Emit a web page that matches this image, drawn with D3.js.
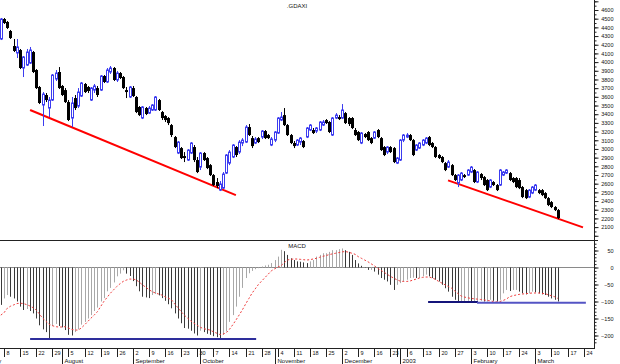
<!DOCTYPE html>
<html>
<head>
<meta charset="utf-8">
<script src="https://cdn.jsdelivr.net/npm/d3@7"></script>
<style>
  body { margin: 0; background: #fff; }
  svg { display: block; }
  text { font-family: "Liberation Sans", Arial, sans-serif; fill: #111; }
</style>
</head>
<body>
<svg width="620" height="364"></svg>
<script>
// daily .GDAXI candles, 5 Jul 2002 .. 12 Mar 2003
const openP = [4266,4496,4462,4358,4185,4105,4139,3932,3966,3989,
  4116,3909,3713,3506,3621,3471,3563,3805,3886,3725,
  3678,3540,3356,3586,3494,3609,3748,3713,3563,3678,
  3701,3678,3840,3771,3886,3932,3794,3874,3828,3678,
  3598,3701,3598,3483,3356,3471,3413,3448,3448,3563,
  3425,3379,3356,3275,3137,2953,3010,2918,2872,2953,
  3022,2872,2791,2953,2895,2814,2699,2619,2526,2549,
  2722,2837,2907,3022,2964,3068,3079,3252,3125,3068,
  3125,3137,3206,3160,3045,3102,3183,3333,3390,3275,
  3160,3068,3045,3079,3091,3137,3218,3218,3206,3218,
  3275,3333,3310,3160,3356,3367,3356,3413,3356,3356,
  3218,3195,3068,3172,3195,3125,3125,3218,3125,3022,
  2964,3022,3010,2837,2872,3102,3137,3160,3102,2987,
  3010,3045,3068,3137,3068,3022,2930,2907,2837,2791,
  2814,2699,2607,2642,2699,2699,2734,2757,2619,2711,
  2676,2642,2561,2619,2584,2584,2699,2722,2722,2665,
  2665,2642,2561,2526,2446,2492,2526,2526,2526,2492,
  2434,2388,2331,2296]
const highP = [4508,4508,4473,4370,4266,4266,4151,4070,4151,4174,
  4128,3920,3725,3655,3644,3598,3863,3909,3943,3736,
  3701,3563,3598,3621,3701,3771,3759,3725,3713,3748,
  3725,3851,3851,3932,3955,3943,3897,3886,3840,3713,
  3725,3725,3609,3494,3494,3483,3494,3517,3609,3575,
  3437,3390,3367,3287,3149,3091,3022,2964,2999,3079,
  3045,2907,2964,2964,2907,2826,2711,2665,2630,2734,
  2941,2987,3056,3033,3102,3125,3275,3287,3149,3137,
  3137,3218,3218,3172,3137,3206,3367,3425,3471,3287,
  3172,3091,3114,3137,3102,3252,3287,3241,3252,3321,
  3333,3344,3321,3367,3413,3390,3517,3425,3367,3367,
  3241,3206,3195,3183,3206,3137,3206,3229,3137,3033,
  3033,3033,3022,2907,3114,3172,3183,3172,3114,3056,
  3079,3114,3137,3149,3079,3033,2941,2918,2849,2872,
  2826,2711,2711,2734,2711,2768,2803,2768,2745,2722,
  2688,2653,2653,2630,2596,2768,2745,2768,2734,2676,
  2676,2665,2573,2538,2538,2573,2596,2538,2538,2503,
  2446,2400,2342,2308]
const lowP = [4254,4439,4381,4266,4116,4047,3920,3828,3955,3978,
  3874,3690,3517,3264,3540,3367,3552,3782,3690,3609,
  3529,3321,3252,3448,3471,3598,3644,3644,3552,3644,
  3598,3667,3759,3759,3863,3782,3771,3805,3690,3586,
  3586,3598,3413,3379,3344,3390,3402,3437,3437,3437,
  3333,3310,3275,3137,3010,2941,2884,2849,2861,2941,
  2849,2722,2757,2861,2768,2688,2573,2549,2515,2538,
  2711,2814,2895,2907,2941,3033,3068,3149,3010,3056,
  3068,3114,3114,3114,3033,3079,3172,3321,3264,3149,
  3056,3010,3033,3045,3010,3125,3206,3172,3183,3206,
  3264,3287,3183,3149,3344,3333,3344,3287,3264,3229,
  3149,3091,3056,3125,3091,3056,3114,3125,2976,2918,
  2941,2953,2837,2826,2861,3079,3125,3091,2918,2976,
  2999,3033,3056,3033,3010,2895,2884,2837,2745,2780,
  2688,2630,2561,2630,2665,2688,2722,2607,2607,2642,
  2573,2515,2549,2573,2515,2573,2688,2711,2630,2607,
  2549,2538,2434,2423,2434,2480,2515,2480,2457,2423,
  2342,2319,2285,2192]
const closeP = [4496,4450,4393,4277,4128,4174,3932,4059,4116,4139,
  3886,3701,3529,3632,3563,3563,3851,3874,3701,3621,
  3540,3333,3529,3471,3655,3759,3655,3667,3701,3725,
  3621,3840,3771,3909,3932,3794,3874,3817,3701,3655,
  3713,3609,3425,3390,3483,3402,3471,3506,3598,3448,
  3356,3333,3298,3160,3022,3079,2895,2895,2987,3068,
  2872,2734,2953,2872,2780,2699,2584,2573,2596,2711,
  2930,2964,3045,2930,3079,3102,3252,3160,3033,3114,
  3079,3206,3125,3125,3114,3195,3356,3367,3275,3160,
  3068,3033,3102,3125,3022,3241,3275,3183,3241,3310,
  3310,3298,3195,3356,3390,3344,3448,3298,3287,3241,
  3160,3102,3183,3137,3102,3068,3195,3137,2987,2930,
  3022,2964,2849,2895,3102,3160,3160,3102,2930,3045,
  3068,3102,3125,3045,3022,2907,2895,2849,2757,2849,
  2699,2642,2699,2722,2676,2757,2791,2619,2734,2665,
  2584,2526,2642,2584,2526,2757,2734,2757,2642,2619,
  2561,2549,2446,2434,2526,2561,2584,2492,2469,2434,
  2354,2331,2296,2204]

// MACD and its signal line, same days
const macd = [-110,-91,-81,-86,-91,-100,-115,-125,-122,-128,
  -135,-150,-170,-182,-190,-208,-172,-166,-172,-176,
  -184,-198,-200,-190,-182,-168,-160,-150,-140,-128,
  -118,-100,-90,-70,-60,-44,-26,-18,-8,-18,
  -25,-40,-55,-70,-86,-88,-90,-81,-78,-82,
  -90,-98,-108,-120,-135,-150,-164,-178,-180,-186,
  -194,-200,-186,-190,-195,-198,-202,-205,-208,-198,
  -188,-160,-140,-115,-86,-60,-31,-17,-10,-5,
  -2,3,6,8,13,22,32,52,48,37,
  27,22,18,17,15,13,18,22,32,37,
  42,42,46,51,51,54,56,51,46,37,
  22,12,5,1,-7,-7,-12,-21,-31,-36,
  -41,-51,-66,-51,-46,-41,-36,-31,-30,-31,
  -31,-26,-21,-26,-31,-36,-41,-51,-61,-71,
  -86,-95,-100,-100,-100,-98,-100,-100,-100,-98,
  -100,-100,-95,-98,-100,-95,-76,-66,-69,-66,
  -66,-71,-76,-79,-76,-71,-73,-76,-79,-81,
  -86,-91,-95,-100]
const signal = [-140,-133,-120,-114,-110,-106,-105,-106,-109,-113,
  -118,-125,-137,-149,-158,-167,-171,-174,-175,-175,
  -174,-178,-182,-184,-184,-178,-169,-159,-149,-140,
  -130,-115,-100,-88,-76,-66,-56,-48,-41,-37,
  -34,-34,-36,-43,-51,-58,-65,-71,-75,-78,
  -81,-86,-90,-95,-107,-118,-130,-140,-149,-157,
  -164,-170,-176,-180,-182,-184,-189,-193,-197,-196,
  -192,-182,-169,-155,-140,-125,-108,-92,-76,-63,
  -50,-40,-30,-20,-10,-4,1,5,14,22,
  24,25,25,24,23,22,23,25,27,30,
  33,35,38,40,42,44,46,47,45,42,
  39,32,27,22,17,11,5,-2,-8,-14,
  -20,-26,-31,-36,-40,-41,-41,-40,-37,-34,
  -31,-29,-28,-28,-31,-35,-41,-46,-51,-56,
  -61,-69,-77,-84,-87,-89,-91,-92,-93,-94,
  -95,-97,-98,-100,-101,-100,-97,-93,-86,-83,
  -81,-79,-78,-77,-76,-75,-75,-75,-76,-77,
  -80,-83,-86,-91]

// hand drawn lines, [day number from 5 Jul, value]
const priceTrends = [
  [[9.1, 3448], [73.0, 2469]],
  [[138.9, 2638], [180.8, 2097]]
]
const macdLevels = [
  { pts: [[9.1, -210], [79.3, -210]], color: '#2e2e9c' },
  { pts: [[132.7, -101.5], [148.2, -101.5]], color: '#14147a' },
  { pts: [[147.9, -104], [181.7, -104]], color: '#5454c4' }
]

const priceTicks = d3.range(2100, 4601, 100)
const macdTicks = [50, 0, -50, -100, -150, -200]
const monthNames = ['2003', 'February', 'March', 'April', 'May', 'June',
  'July', 'August', 'September', 'October', 'November', 'December']
const holidays = ['2002-12-24', '2002-12-25', '2002-12-26', '2002-12-31', '2003-01-01']

// trading calendar, from 1 Jul so the July label can hang off the left edge
const fmt = d3.timeFormat('%Y-%m-%d')
const days = []
for (let d = new Date(2002, 6, 1); d <= new Date(2003, 2, 28); d.setDate(d.getDate() + 1)) {
  if (d.getDay() === 0 || d.getDay() === 6 || holidays.includes(fmt(d))) continue
  days.push(new Date(d))
}
const offset = 4 // 5 Jul is the 5th trading day of the calendar

const svg = d3.select('svg')
const axisX = 594
const x = d3.scaleLinear().domain([offset, offset + 180]).range([0.8, 580.4])
const y = d3.scaleLinear().domain([2100, 4600]).range([227.1, 10])
const ym = d3.scaleLinear().domain([-200, 50]).range([335.5, 250.5])
const px = k => Math.round(x(k + offset)) + 0.5
const xk = k => x(k + offset)

const bars = closeP.map((c, k) => ({ k, o: openP[k], h: highP[k], l: lowP[k], c }))

// panel frame
svg.append('line').attr('x1', 0).attr('x2', 598).attr('y1', 240.5).attr('y2', 240.5)
  .attr('stroke', '#222')
svg.append('line').attr('x1', 0).attr('x2', axisX).attr('y1', 348.5).attr('y2', 348.5)
  .attr('stroke', '#222')
svg.append('line').attr('x1', axisX + 0.5).attr('x2', axisX + 0.5).attr('y1', 0).attr('y2', 349)
  .attr('stroke', '#222')

// right axes
const priceAxis = svg.append('g').attr('transform', `translate(${axisX + 0.5},0)`)
priceAxis.call(d3.axisRight(y).tickValues(d3.range(2000, 4751, 50)).tickSize(2).tickFormat(''))
priceAxis.append('g').call(d3.axisRight(y).tickValues([...priceTicks, 2000, 4700]).tickSize(4)
  .tickFormat(v => priceTicks.includes(v) ? v : ''))
const macdAxis = svg.append('g').attr('transform', `translate(${axisX + 0.5},0)`)
macdAxis.call(d3.axisRight(ym).tickValues(d3.range(-220, 71, 10)).tickSize(2).tickFormat(''))
macdAxis.append('g').call(d3.axisRight(ym).tickValues(macdTicks).tickSize(4))
svg.selectAll('.domain').remove()
svg.selectAll('.tick line').attr('stroke', '#222')
svg.selectAll('.tick text').attr('x', 19).attr('text-anchor', 'end')
  .style('font-size', '5.5px').attr('fill', '#111')

// titles
svg.append('text').attr('x', 297).attr('y', 8).attr('text-anchor', 'middle')
  .style('font-size', '6px').text('.GDAXI')
svg.append('text').attr('x', 297).attr('y', 247.5).attr('text-anchor', 'middle')
  .style('font-size', '6px').text('MACD')

// trend lines
svg.append('g').selectAll('line').data(priceTrends).join('line')
  .attr('x1', d => xk(d[0][0])).attr('y1', d => y(d[0][1]))
  .attr('x2', d => xk(d[1][0])).attr('y2', d => y(d[1][1]))
  .attr('stroke', '#ff0000').attr('stroke-width', 2)

// candles
const candle = svg.append('g').selectAll('g').data(bars).join('g')
candle.append('line')
  .attr('x1', d => px(d.k)).attr('x2', d => px(d.k))
  .attr('y1', d => y(d.h)).attr('y2', d => y(d.l))
  .attr('stroke', d => d.c >= d.o ? '#3c3cf0' : '#000')
candle.append('rect')
  .attr('x', d => d.c >= d.o ? px(d.k) - 1 : px(d.k) - 1.5)
  .attr('width', d => d.c >= d.o ? 2 : 3)
  .attr('y', d => y(Math.max(d.o, d.c)))
  .attr('height', d => Math.max(1, Math.abs(y(d.o) - y(d.c))))
  .attr('fill', d => d.c >= d.o ? '#fff' : '#000')
  .attr('stroke', d => d.c >= d.o ? '#3c3cf0' : 'none')

// MACD panel
svg.append('line').attr('x1', 0).attr('x2', axisX).attr('y1', 267.5).attr('y2', 267.5)
  .attr('stroke', '#8a8a8a')
svg.append('g').selectAll('line').data(macd).join('line')
  .attr('x1', (d, k) => px(k)).attr('x2', (d, k) => px(k))
  .attr('y1', ym(0)).attr('y2', d => ym(d))
  .attr('stroke', (d, k) => k > 0 && d >= macd[k - 1] ? '#a8a8a8' : '#3a3a3a')
svg.append('path').datum(signal)
  .attr('d', d3.line().x((d, k) => xk(k)).y(d => ym(d)))
  .attr('fill', 'none').attr('stroke', '#f03c3c').attr('stroke-dasharray', '2,2')
svg.append('g').selectAll('line').data(macdLevels).join('line')
  .attr('x1', d => xk(d.pts[0][0])).attr('y1', d => ym(d.pts[0][1]))
  .attr('x2', d => xk(d.pts[1][0])).attr('y2', d => ym(d.pts[1][1]))
  .attr('stroke', d => d.color).attr('stroke-width', 2)

// date axis: Monday ticks and month separators
const weekIdx = days.map((d, i) => i).filter(i => days[i].getDay() === 1 && x(i) > 0)
const monthIdx = days.map((d, i) => i)
  .filter(i => i === 0 || days[i].getMonth() !== days[i - 1].getMonth())
const dateAxis = svg.append('g')
dateAxis.selectAll('line.week').data(weekIdx).join('line').attr('class', 'week')
  .attr('x1', i => Math.round(x(i)) + 0.5).attr('x2', i => Math.round(x(i)) + 0.5)
  .attr('y1', 348).attr('y2', 357).attr('stroke', '#222')
dateAxis.selectAll('text.week')
  .data(weekIdx.filter((i, n) => n === 0 || x(i) - x(weekIdx[n - 1]) > 8))
  .join('text').attr('class', 'week')
  .attr('x', i => Math.round(x(i)) + 2.5).attr('y', 355)
  .style('font-size', '5.5px').text(i => days[i].getDate())
dateAxis.selectAll('line.month').data(monthIdx.filter(i => i > 0)).join('line').attr('class', 'month')
  .attr('x1', i => Math.round(x(i)) + 0.5).attr('x2', i => Math.round(x(i)) + 0.5)
  .attr('y1', 348).attr('y2', 364).attr('stroke', '#222')
dateAxis.selectAll('text.month').data(monthIdx).join('text').attr('class', 'month')
  .attr('x', i => Math.round(x(i)) + 2.5).attr('y', 363)
  .style('font-size', '6px').text(i => monthNames[days[i].getMonth()])
</script>
</body>
</html>
